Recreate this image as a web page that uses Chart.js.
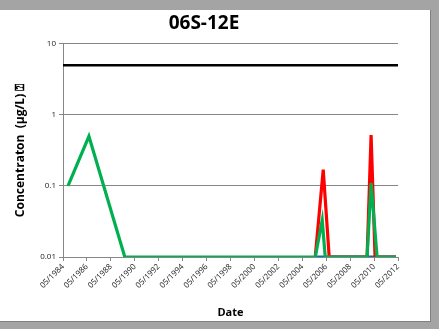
<!DOCTYPE html>
<html>
<head>
<meta charset="utf-8">
<script src="https://cdn.jsdelivr.net/npm/chart.js@4"></script>
<style>
  html, body { margin: 0; padding: 0; }
  body { width: 439px; height: 329px; background: #a4a4a4; position: relative; overflow: hidden; }
  #box { position: absolute; left: 0; top: 10px; width: 430px; height: 311px; background: #fff; border-right: 1px solid #808080; border-bottom: 1px solid #808080; }
</style>
</head>
<body>
<div id="box"><canvas id="chart" width="430" height="311"></canvas></div>
<script>
// Tick labels on the date axis
const tickLabels = ['05/1984', '05/1986', '05/1988', '05/1990', '05/1992', '05/1994', '05/1996',
	'05/1998', '05/2000', '05/2002', '05/2004', '05/2006', '05/2008', '05/2010', '05/2012'];
const yTicks = [0.01, 0.1, 1, 10];

// Series (dates)
const greenDates = ['10/1984', '07/1986', '07/1989', '06/2005', '01/2006', '04/2006', '10/2009', '02/2010', '08/2010', '03/2012'];
const greenValues = [0.1, 0.5, 0.01, 0.01, 0.033, 0.01, 0.01, 0.11, 0.01, 0.01];

const redDates = ['06/2005', '02/2006', '08/2006', '10/2009', '02/2010', '06/2010', '03/2012'];
const redValues = [0.01, 0.17, 0.01, 0.01, 0.52, 0.01, 0.01];

const blueDates = ['06/2005', '03/2012'];
const blueValues = [0.01, 0.01];

const limitDates = ['05/1984', '05/2012'];
const limitValues = [5, 5];

function toYear(s) {
	const parts = s.split('/');
	return +parts[1] + (parts[0] - 1) / 12;
}

function pts(dates, values) {
	return dates.map((d, i) => ({ x: toYear(d), y: values[i] }));
}

const base = { fill: false, pointRadius: 0, tension: 0, borderJoinStyle: 'miter' };

const ctx = document.getElementById('chart').getContext('2d');
const chart = new Chart(ctx, {
	type: 'line',
	data: {
		datasets: [
			{ ...base, label: 'green', data: pts(greenDates, greenValues), borderColor: '#00b050', borderWidth: 3.2 },
			{ ...base, label: 'red', data: pts(redDates, redValues), borderColor: '#ff0000', borderWidth: 3.2 },
			{ ...base, label: 'blue', data: pts(blueDates, blueValues), borderColor: '#0070c0', borderWidth: 3 },
			{ ...base, label: 'limit', data: pts(limitDates, limitValues), borderColor: '#000000', borderWidth: 2.5 },
		],
	},
	options: {
		responsive: false,
		animation: false,
		layout: { padding: { left: 10, right: 32, top: 0, bottom: 0 } },
		plugins: {
			legend: { display: false },
			tooltip: { enabled: false },
			title: {
				display: true,
				text: '06S-12E',
				color: '#000',
				font: { family: 'Open Sans', size: 19, weight: 'bold' },
				padding: { top: 2, bottom: 9 },
			},
		},
		scales: {
			x: {
				type: 'linear',
				min: toYear(tickLabels[0]),
				max: toYear(tickLabels[tickLabels.length - 1]),
				afterBuildTicks: function (scale) {
					scale.ticks = tickLabels.map((t) => ({ value: toYear(t), label: t }));
				},
				afterFit: function (scale) {
					scale.height = 64;
				},
				ticks: {
					autoSkip: false,
					minRotation: 45,
					maxRotation: 45,
					color: '#222',
					font: { family: 'Open Sans', size: 8 },
					padding: 1,
					callback: function (value, index) {
						return tickLabels[index];
					},
				},
				grid: { drawOnChartArea: false, color: '#868686', tickLength: 4 },
				border: { color: '#868686' },
				title: {
					display: true,
					text: 'Date',
					color: '#000',
					font: { family: 'Open Sans', size: 11, weight: 'bold' },
					padding: { top: 0, bottom: 2 },
				},
			},
			y: {
				type: 'logarithmic',
				min: 0.01,
				max: 10,
				afterBuildTicks: function (scale) {
					scale.ticks = yTicks.map((v) => ({ value: v }));
				},
				afterFit: function (scale) {
					scale.width = 53;
				},
				ticks: {
					color: '#222',
					font: { family: 'Open Sans', size: 8 },
					padding: 3,
					callback: function (value) {
						return String(value);
					},
				},
				grid: { color: '#868686', tickLength: 4 },
				border: { color: '#868686' },
				title: {
					display: true,
					text: 'Concentraton  (\u00b5g/L) \u2370',
					color: '#000',
					font: { family: 'Open Sans', size: 12, weight: 'bold' },
					padding: { top: 3, bottom: 0 },
				},
			},
		},
	},
});
</script>
</body>
</html>
